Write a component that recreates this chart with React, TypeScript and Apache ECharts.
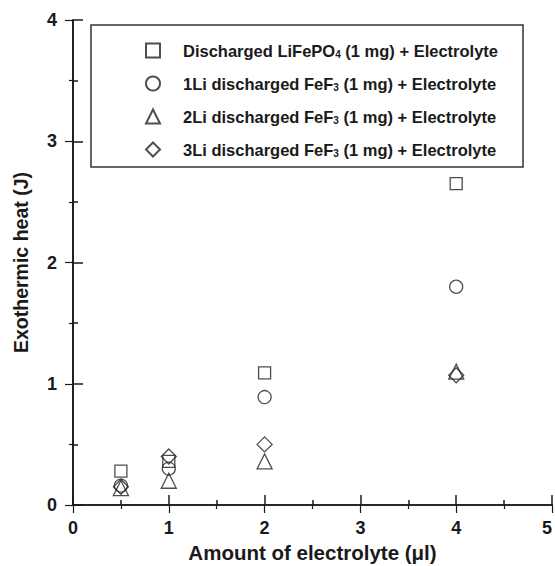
import React, { useEffect, useRef } from "react";
import * as echarts from "echarts";

const seriesNames = [
  "Discharged LiFePO4 (1 mg) + Electrolyte",
  "1Li discharged FeF3 (1 mg) + Electrolyte",
  "2Li discharged FeF3 (1 mg) + Electrolyte",
  "3Li discharged FeF3 (1 mg) + Electrolyte",
];
const legendRich = [
  "Discharged LiFePO{sub|4} (1 mg) + Electrolyte",
  "1Li discharged FeF{sub|3} (1 mg) + Electrolyte",
  "2Li discharged FeF{sub|3} (1 mg) + Electrolyte",
  "3Li discharged FeF{sub|3} (1 mg) + Electrolyte",
];
const symbols = ["rect", "circle", "triangle", "diamond"];
const symbolSizes = [12, 13, 15, 15];
const amounts = [0.5, 1, 2, 4];
const lifepo4 = [0.28, 0.36, 1.09, 2.65];
const li1 = [0.16, 0.3, 0.89, 1.8];
const li2 = [0.14, 0.2, 0.36, 1.1];
const li3 = [0.15, 0.4, 0.5, 1.07];
const values = [lifepo4, li1, li2, li3];

const FONT = "'Liberation Sans', Arial, sans-serif";

export default function App() {
  const ref = useRef<HTMLDivElement>(null);
  useEffect(() => {
    const chart = echarts.init(ref.current!, null, { renderer: "svg" });
    const tickLabel = { fontFamily: FONT, fontWeight: "bold", fontSize: 18, color: "#1a1a1a" };
    const axisLine = { show: true, lineStyle: { color: "#1a1a1a", width: 1.6 } };
    chart.setOption({
      animation: false,
      backgroundColor: "#ffffff",
      grid: { left: 73, right: 3, top: 20, bottom: 61, outerBoundsMode: "none", containLabel: false },
      legend: {
        orient: "vertical",
        left: 145,
        top: 42,
        padding: 0,
        itemWidth: 14,
        itemHeight: 14,
        itemGap: 16,
        selectedMode: false,
        data: seriesNames,
        formatter: (name: string) => legendRich[seriesNames.indexOf(name)],
        textStyle: {
          fontFamily: FONT,
          fontWeight: "bold",
          fontSize: 16.5,
          lineHeight: 17,
          color: "#1a1a1a",
          padding: [0, 0, 0, 18],
          rich: {
            sub: { fontFamily: FONT, fontWeight: "bold", fontSize: 10, lineHeight: 17, color: "#1a1a1a", padding: [7, 0, 0, 0] },
          },
        },
      },
      graphic: [
        {
          type: "rect",
          shape: { x: 91, y: 25, width: 432, height: 142 },
          style: { fill: "none", stroke: "#333", lineWidth: 1.5 },
          z: 10,
        },
      ],
      xAxis: [
        {
          type: "value",
          min: 0,
          max: 5,
          interval: 1,
          name: "Amount of electrolyte (μl)",
          nameLocation: "middle",
          nameGap: 37,
          nameTextStyle: { fontFamily: FONT, fontWeight: "bold", fontSize: 20.5, color: "#1a1a1a" },
          axisLine,
          axisTick: { show: true, inside: true, length: 10, lineStyle: { color: "#1a1a1a", width: 1.5 } },
          minorTick: { show: true, splitNumber: 2, length: 5, lineStyle: { color: "#1a1a1a", width: 1.5 } },
          axisLabel: { ...tickLabel, margin: 14, alignMaxLabel: "right" },
          splitLine: { show: false },
        },
        {
          type: "value",
          position: "top",
          min: 0,
          max: 5,
          interval: 1,
          axisLine,
          axisTick: { show: true, inside: true, length: 8, lineStyle: { color: "#1a1a1a", width: 1.2 } },
          minorTick: { show: true, splitNumber: 2, length: 4, lineStyle: { color: "#1a1a1a", width: 1.2 } },
          axisLabel: { show: false },
          splitLine: { show: false },
        },
      ],
      yAxis: [
        {
          type: "value",
          min: 0,
          max: 4,
          interval: 1,
          name: "Exothermic heat (J)",
          nameLocation: "middle",
          nameGap: 42,
          nameTextStyle: { fontFamily: FONT, fontWeight: "bold", fontSize: 19.5, color: "#1a1a1a" },
          axisLine,
          axisTick: { show: true, inside: true, length: 10, lineStyle: { color: "#1a1a1a", width: 1.5 } },
          minorTick: { show: true, splitNumber: 2, length: 5, lineStyle: { color: "#1a1a1a", width: 1.5 } },
          axisLabel: { ...tickLabel, margin: 16 },
          splitLine: { show: false },
        },
        {
          type: "value",
          position: "right",
          min: 0,
          max: 4,
          interval: 1,
          axisLine,
          axisTick: { show: true, inside: true, length: 8, lineStyle: { color: "#1a1a1a", width: 1.2 } },
          minorTick: { show: true, splitNumber: 2, length: 4, lineStyle: { color: "#1a1a1a", width: 1.2 } },
          axisLabel: { show: false },
          splitLine: { show: false },
        },
      ],
      series: seriesNames.map((name, i) => ({
        name,
        type: "scatter",
        symbol: symbols[i],
        symbolSize: symbolSizes[i],
        itemStyle: { color: "rgba(255,255,255,0)", borderColor: "#222", borderWidth: 1.3 },
        data: amounts.map((x, j) => [x, values[i][j]]),
      })),
    });
    return () => chart.dispose();
  }, []);
  return <div ref={ref} style={{ width: 555, height: 566, position: "absolute", left: 0, top: 0 }} />;
}
